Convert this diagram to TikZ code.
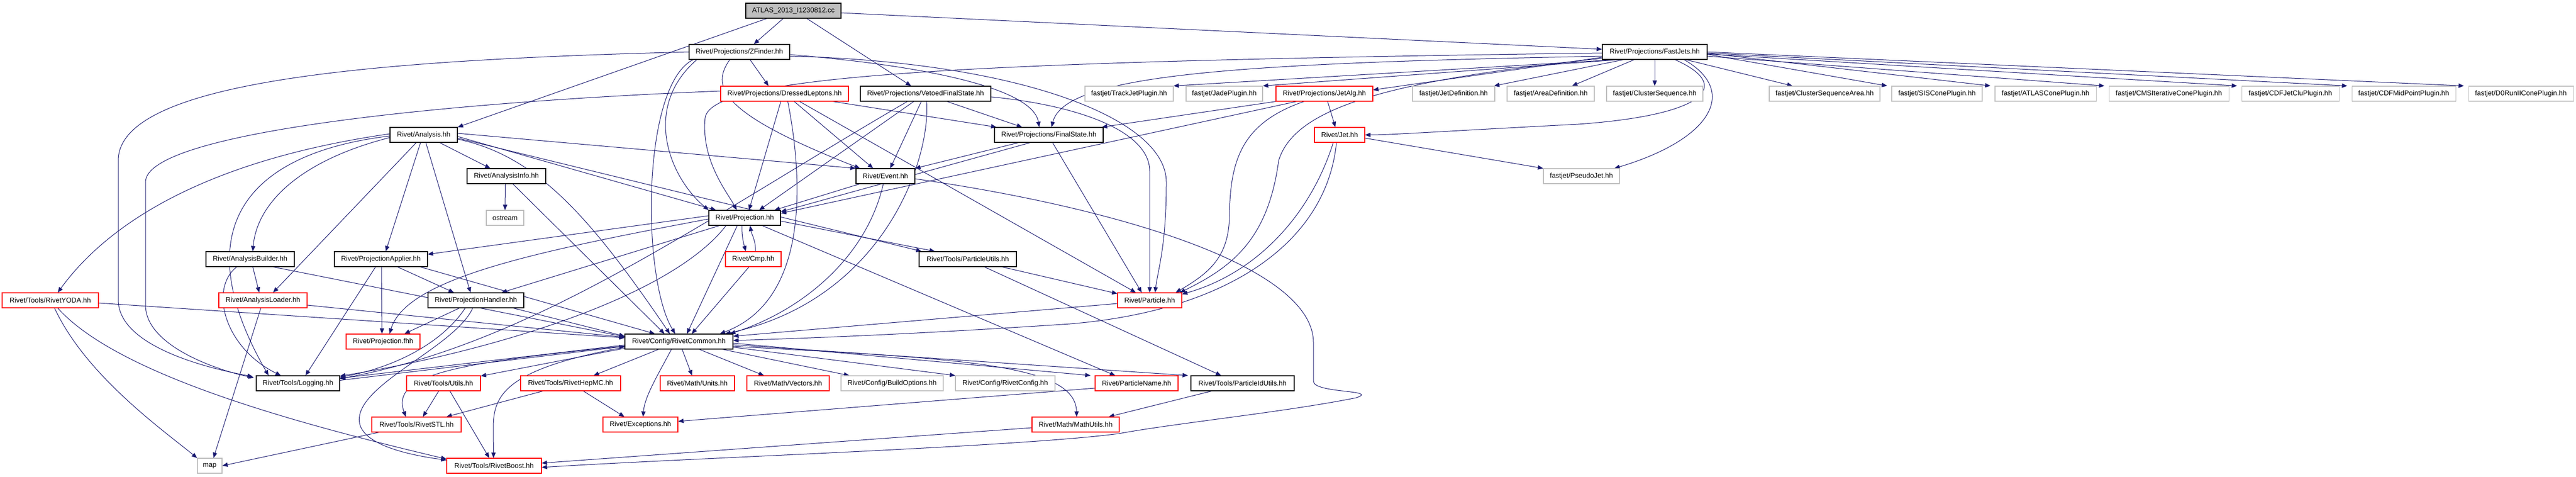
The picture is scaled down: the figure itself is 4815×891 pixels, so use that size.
\documentclass[tikz,border=0pt]{standalone}
\usepackage{fontspec}
\setmainfont{Liberation Sans}
\usetikzlibrary{arrows.meta,backgrounds}
\definecolor{edgecol}{HTML}{191970}
\definecolor{grayb}{HTML}{BFBFBF}
\begin{document}
\begin{tikzpicture}[x=1pt,y=-1pt,
  box/.style={draw, rectangle, inner sep=0pt, minimum height=28pt, fill=white, line width=1.1pt, font=\fontsize{13}{15}\selectfont},
  blk/.style={box, draw=black},
  rbox/.style={box, draw=red},
  gbox/.style={box, draw=grayb},
  rootbox/.style={box, draw=black, fill=grayb},
  dep/.style={draw=edgecol, line width=1pt, -{Triangle[length=10pt,width=8pt]}}]

% ---------- nodes ----------
\node[rootbox, minimum width=178pt] (root) at (1483,20) {ATLAS\_2013\_I1230812.cc};
\node[blk, minimum width=188pt] (zf) at (1382,97) {Rivet/Projections/ZFinder.hh};
\node[blk, minimum width=196pt] (fj) at (3093,97) {Rivet/Projections/FastJets.hh};

\node[rbox, minimum width=239pt] (dl) at (1466.5,175) {Rivet/Projections/DressedLeptons.hh};
\node[blk, minimum width=244pt] (vfs) at (1730,175) {Rivet/Projections/VetoedFinalState.hh};
\node[gbox, minimum width=165pt] (tj) at (2110.5,175) {fastjet/TrackJetPlugin.hh};
\node[gbox, minimum width=143pt] (jade) at (2288.5,175) {fastjet/JadePlugin.hh};
\node[rbox, minimum width=181pt] (ja) at (2475.5,175) {Rivet/Projections/JetAlg.hh};
\node[gbox, minimum width=154pt] (jd) at (2717,175) {fastjet/JetDefinition.hh};
\node[gbox, minimum width=163pt] (ad) at (2898.5,175) {fastjet/AreaDefinition.hh};
\node[gbox, minimum width=180pt] (cs) at (3093,175) {fastjet/ClusterSequence.hh};
\node[gbox, minimum width=207pt] (csa) at (3410.5,175) {fastjet/ClusterSequenceArea.hh};
\node[gbox, minimum width=169pt] (sis) at (3620.5,175) {fastjet/SISConePlugin.hh};
\node[gbox, minimum width=189pt] (atl) at (3823.5,175) {fastjet/ATLASConePlugin.hh};
\node[gbox, minimum width=224pt] (cms) at (4054,175) {fastjet/CMSIterativeConePlugin.hh};
\node[gbox, minimum width=182pt] (cdfj) at (4281,175) {fastjet/CDFJetCluPlugin.hh};
\node[gbox, minimum width=194pt] (cdfm) at (4493,175) {fastjet/CDFMidPointPlugin.hh};
\node[gbox, minimum width=196pt] (d0) at (4712,175) {fastjet/D0RunIIConePlugin.hh};

\node[blk, minimum width=126pt] (an) at (792,252) {Rivet/Analysis.hh};
\node[blk, minimum width=203pt] (fs) at (1960.5,252) {Rivet/Projections/FinalState.hh};
\node[rbox, minimum width=94pt] (jet) at (2504,252) {Rivet/Jet.hh};

\node[blk, minimum width=147pt] (ai) at (946.5,329) {Rivet/AnalysisInfo.hh};
\node[blk, minimum width=110pt] (ev) at (1655,329) {Rivet/Event.hh};
\node[gbox, minimum width=142pt] (pj) at (2956,329) {fastjet/PseudoJet.hh};

\node[gbox, minimum width=70pt] (os) at (944,407) {ostream};
\node[blk, minimum width=134pt] (proj) at (1392,407) {Rivet/Projection.hh};

\node[blk, minimum width=165pt] (ab) at (467.5,484) {Rivet/AnalysisBuilder.hh};
\node[blk, minimum width=174pt] (pa) at (712,484) {Rivet/ProjectionApplier.hh};
\node[rbox, minimum width=104pt] (cmp) at (1408,484) {Rivet/Cmp.hh};
\node[blk, minimum width=182pt] (pu) at (1809,484) {Rivet/Tools/ParticleUtils.hh};

\node[rbox, minimum width=180pt] (yoda) at (94,561) {Rivet/Tools/RivetYODA.hh};
\node[rbox, minimum width=165pt] (al) at (491.5,561) {Rivet/AnalysisLoader.hh};
\node[blk, minimum width=179pt] (ph) at (889.5,561) {Rivet/ProjectionHandler.hh};
\node[rbox, minimum width=120pt] (part) at (2149,561) {Rivet/Particle.hh};

\node[rbox, minimum width=138pt] (pfhh) at (716,638) {Rivet/Projection.fhh};
\node[blk, minimum width=202pt] (rc) at (1269,638) {Rivet/Config/RivetCommon.hh};

\node[blk, minimum width=156pt] (log) at (557,716) {Rivet/Tools/Logging.hh};
\node[rbox, minimum width=138pt] (ut) at (829,716) {Rivet/Tools/Utils.hh};
\node[rbox, minimum width=187pt] (hepmc) at (1066.5,716) {Rivet/Tools/RivetHepMC.hh};
\node[rbox, minimum width=139pt] (units) at (1303.5,716) {Rivet/Math/Units.hh};
\node[rbox, minimum width=154pt] (vec) at (1473,716) {Rivet/Math/Vectors.hh};
\node[gbox, minimum width=191pt] (bo) at (1667.5,716) {Rivet/Config/BuildOptions.hh};
\node[gbox, minimum width=186pt] (rcfg) at (1879,716) {Rivet/Config/RivetConfig.hh};
\node[rbox, minimum width=155pt] (pn) at (2124.5,716) {Rivet/ParticleName.hh};
\node[blk, minimum width=193pt] (piu) at (2322.5,716) {Rivet/Tools/ParticleIdUtils.hh};

\node[rbox, minimum width=167pt] (stl) at (778.5,793) {Rivet/Tools/RivetSTL.hh};
\node[rbox, minimum width=140pt] (exc) at (1197,793) {Rivet/Exceptions.hh};
\node[rbox, minimum width=163pt] (mu) at (2010.5,793) {Rivet/Math/MathUtils.hh};

\node[gbox, minimum width=46pt] (map) at (392,870) {map};
\node[rbox, minimum width=177pt] (boost) at (923.5,870) {Rivet/Tools/RivetBoost.hh};

% ---------- edges ----------
\begin{scope}[on background layer]
\fill[white] (0,0) rectangle (4815,891);
\useasboundingbox (0,0) rectangle (4815,891);

% root
\draw[dep] ([xshift=40pt]root.south west) -- (an.north east);
\draw[dep] ([xshift=-19pt]root.south) -- ([xshift=27pt]zf.north);
\draw[dep] ([xshift=25pt]root.south) -- ([xshift=-27pt]vfs.north);
\draw[dep] ([yshift=-4pt]root.east) -- ([yshift=5pt]fj.west);

% ZFinder
\draw[dep] ([xshift=20pt]zf.south) -- ([xshift=-30pt]dl.north);
\draw[dep] (zf.west) .. controls (700,112) and (221,150) .. (221,300) -- (221,560) .. controls (221,650) and (400,690) .. ([xshift=-6pt,yshift=-2pt]log.north west);
\draw[dep] ([xshift=15pt]zf.south west) .. controls (1200,200) and (1250,330) .. (proj.north west);
\draw[dep] ([xshift=8pt]zf.south west) .. controls (1199,160) and (1199,520) .. ([xshift=-7pt]rc.north);
\draw[dep] ([xshift=-18pt]zf.south) .. controls (1330,160) and (1340,210) .. ([xshift=8pt]ev.north west);
\draw[dep] ([yshift=-5pt]zf.east) .. controls (1700,120) and (1930,160) .. ([xshift=-18pt]fs.north);
\draw[dep] ([yshift=-8pt]zf.east) .. controls (1900,115) and (2180,220) .. (2180,340) .. controls (2180,460) and (2165,500) .. ([xshift=10pt]part.north);

% DressedLeptons
\draw[dep] ([yshift=5pt]dl.west) .. controls (800,192) and (272,250) .. (272,340) -- (272,570) .. controls (272,650) and (420,695) .. ([xshift=-4pt,yshift=-4pt]log.north west);
\draw[dep] ([xshift=-7pt]dl.south) -- ([xshift=8pt]proj.north);
\draw[dep] ([xshift=6pt]dl.south) .. controls (1500,330) and (1515,560) .. ([xshift=-25pt]rc.north east);
\draw[dep] ([xshift=18pt]dl.south) -- ([xshift=-23pt]ev.north);
\draw[dep] ([xshift=28pt]dl.south) -- ([xshift=-26pt]part.north);
\draw[dep] ([xshift=-30pt]dl.south east) -- ([xshift=4pt]fs.north west);

% VetoedFinalState
\draw[dep] ([xshift=-34pt]vfs.south) .. controls (1300,420) and (1000,640) .. ([yshift=-6pt]log.north east);
\draw[dep] ([xshift=-22pt]vfs.south) -- ([xshift=27pt]proj.north);
\draw[dep] ([xshift=-8pt]vfs.south) -- ([xshift=9pt]ev.north);
\draw[dep] ([xshift=2pt]vfs.south) .. controls (1740,300) and (1650,560) .. ([xshift=-15pt]rc.north east);
\draw[dep] ([xshift=40pt]vfs.south) -- ([xshift=-50pt]fs.north);
\draw[dep] ([yshift=-6pt]vfs.east) .. controls (2000,195) and (2149,240) .. (2149,320) -- (part.north);

% FastJets
\draw[dep] ([yshift=-8pt]fj.west) .. controls (2300,118) and (1990,140) .. ([xshift=5pt]fs.north);
\draw[dep] ([yshift=-2pt]fj.west) .. controls (1800,115) and (1330,140) .. (1318,220) .. controls (1310,300) and (1360,360) .. ([xshift=-15pt]proj.north);
\draw[dep] ([yshift=-10pt]fj.west) -- ([yshift=7pt]ja.east);
\draw[dep] ([xshift=38pt]fj.south) .. controls (3240,160) and (3190,215) .. (2950,232) .. controls (2700,245) and (2600,252) .. (jet.east);
\draw[dep] ([xshift=55pt]fj.south) .. controls (3250,170) and (3200,260) .. ([xshift=-10pt]pj.north east);
\draw[dep] ([yshift=-12pt]fj.west) .. controls (2600,150) and (2420,200) .. (2390,300) .. controls (2370,450) and (2300,500) .. ([xshift=-4pt]part.north east);
\draw[dep] ([xshift=25pt]fj.south west) -- (tj.north east);
\draw[dep] ([xshift=30pt]fj.south west) -- (jade.north east);
\draw[dep] ([xshift=40pt]fj.south west) -- ([xshift=-2pt]jd.north east);
\draw[dep] ([xshift=60pt]fj.south west) -- ([xshift=40pt]ad.north);
\draw[dep] (fj.south) -- (cs.north);
\draw[dep] ([xshift=-40pt]fj.south east) -- ([xshift=-60pt]csa.north);
\draw[dep] ([yshift=10pt]fj.south east) -- ([xshift=-8pt]sis.north west);
\draw[dep] ([yshift=12pt]fj.south east) -- ([xshift=-8pt]atl.north west);
\draw[dep] ([yshift=-8pt]fj.east) -- ([xshift=-8pt]cms.north west);
\draw[dep] ([yshift=-4pt]fj.east) -- ([xshift=-8pt]cdfj.north west);
\draw[dep] ([yshift=-2pt]fj.east) -- ([xshift=-8pt]cdfm.north west);
\draw[dep] (fj.east) -- ([xshift=-8pt]d0.north west);

% JetAlg
\draw[dep] (ja.south west) -- ([xshift=-3pt]fs.north east);
\draw[dep] ([xshift=-52pt]ja.south) -- ([yshift=-6pt]proj.north east);
\draw[dep] ([xshift=-38pt]ja.south) .. controls (2320,230) and (2300,300) .. (2298,400) .. controls (2298,480) and (2260,510) .. ([xshift=-12pt]part.north east);
\draw[dep] ([xshift=6pt]ja.south) -- ([xshift=-8pt]jet.north);

% Jet
\draw[dep] ([yshift=-6pt]jet.east) -- (pj.north west);
\draw[dep] ([xshift=-12pt]jet.south) .. controls (2450,400) and (2350,510) .. ([yshift=-3pt]part.north east);
\draw[dep] ([xshift=-6pt]jet.south) .. controls (2480,450) and (2300,580) .. (2000,605) .. controls (1700,625) and (1500,632) .. ([yshift=2pt]rc.east);

% Analysis
\draw[dep] ([xshift=30pt]an.south) -- ([xshift=-30pt]ai.north);
\draw[dep] ([yshift=3pt]an.east) -- (ev.north west);
\draw[dep] ([yshift=-3pt]an.east) -- ([xshift=14pt]proj.north west);
\draw[dep] ([yshift=-6pt]an.east) -- ([xshift=5pt]pu.north west);
\draw[dep] ([yshift=-8pt]an.east) .. controls (1000,290) and (1100,400) .. ([xshift=-17pt]rc.north);
\draw[dep] ([yshift=2pt]an.west) .. controls (380,300) and (200,420) .. ([xshift=14pt]yoda.north);
\draw[dep] ([yshift=-2pt]an.west) .. controls (470,285) and (340,420) .. ([xshift=-55pt]log.north);
\draw[dep] ([yshift=-5pt]an.west) .. controls (560,300) and (480,380) .. ([xshift=5pt]ab.north);
\draw[dep] ([xshift=-14pt]an.south) -- ([xshift=19pt]al.north);
\draw[dep] ([xshift=-6pt]an.south) -- ([xshift=9pt]pa.north);
\draw[dep] ([xshift=4pt]an.south) -- ([xshift=-10pt]ph.north);

% AnalysisInfo
\draw[dep] ([xshift=-2pt]ai.south) -- (os.north);
\draw[dep] ([xshift=12pt]ai.south) -- ([xshift=-27pt]rc.north);

% AnalysisBuilder
\draw[dep] ([xshift=5pt]ab.south) -- ([xshift=-7pt]al.north);
\draw[dep] ([xshift=-25pt]ab.south) .. controls (390,540) and (420,650) .. ([xshift=-32pt]log.north);
\draw[dep] ([xshift=-40pt]ab.south east) -- ([yshift=9pt]rc.west);

% AnalysisLoader
\draw[dep] ([yshift=-9pt]al.east) -- ([yshift=8pt]rc.west);
\draw[dep] ([xshift=-4pt]al.south) -- ([xshift=7pt]map.north);

% RivetYODA
\draw[dep] ([yshift=-5pt]yoda.east) -- ([yshift=7pt]rc.west);
\draw[dep] ([xshift=8pt]yoda.south) .. controls (160,700) and (300,800) .. (map.north west);
\draw[dep] ([xshift=14pt]yoda.south) .. controls (220,700) and (550,790) .. ([yshift=-2pt]boost.north west);

% ProjectionApplier
\draw[dep] ([xshift=-10pt]pa.south) -- ([xshift=14pt]log.north);
\draw[dep] ([xshift=1pt]pa.south) -- ([xshift=-2pt]pfhh.north);
\draw[dep] ([xshift=31pt]pa.south) -- ([xshift=-41pt]ph.north);
\draw[dep] ([xshift=-14pt]pa.south east) -- ([xshift=-45pt]rc.north);

% ProjectionHandler
\draw[dep] ([xshift=-31pt]ph.south) -- ([xshift=40pt]pfhh.north);
\draw[dep] ([xshift=-20pt]ph.south) .. controls (820,650) and (720,690) .. ([yshift=-3pt]log.north east);
\draw[dep] ([xshift=-6pt]ph.south) .. controls (850,650) and (660,720) .. (672,790) .. controls (680,835) and (780,852) .. ([yshift=-4pt]boost.north west);
\draw[dep] ([xshift=-20pt]ph.south east) -- ([yshift=10pt]rc.west);

% Projection
\draw[dep] ([yshift=4pt]proj.west) -- ([yshift=9pt]pa.east);
\draw[dep] ([xshift=20pt]proj.south west) -- ([xshift=-42pt]ph.north east);
\draw[dep] ([yshift=-2pt]proj.west) .. controls (1000,470) and (760,520) .. ([xshift=12pt]pfhh.north);
\draw[dep] ([xshift=-5pt]proj.south) .. controls (1386,440) and (1390,455) .. ([xshift=-14pt]cmp.north);
\draw[dep] ([xshift=4pt]cmp.north) .. controls (1413,450) and (1405,438) .. ([xshift=10pt]proj.south);
\draw[dep] ([xshift=-14pt]proj.south) -- ([xshift=15pt]rc.north);
\draw[dep] ([xshift=-35pt]proj.south) .. controls (1250,560) and (900,660) .. ([yshift=-1pt]log.north east);
\draw[dep] ([yshift=-6pt]proj.east) -- ([xshift=30pt]pu.north west);
\draw[dep] ([xshift=33pt]proj.south) -- ([xshift=-40pt]pn.north);

% Cmp
\draw[dep] ([xshift=-8pt]cmp.south) -- ([xshift=24pt]rc.north);

% Event
\draw[dep] ([xshift=-48pt]ev.south) -- ([xshift=-12pt]proj.north east);
\draw[dep] ([xshift=-4pt]ev.south) .. controls (1620,480) and (1500,580) .. ([xshift=-6pt]rc.north east);
\draw[dep] ([yshift=-5pt]ev.east) .. controls (2100,390) and (2455,500) .. (2455,640) -- (2455,712)
  .. controls (2455,735) and (2580,728) .. (2535,743)
  .. controls (2400,770) and (2200,790) .. (2091,810)
  .. controls (1900,835) and (1300,855) .. ([yshift=-3pt]boost.east);

% FinalState
\draw[dep] ([xshift=-57pt]fs.south) -- (ev.north east);
\draw[dep] ([xshift=-35pt]fs.south) -- ([yshift=-3pt]proj.north east);
\draw[dep] ([xshift=7pt]fs.south) -- ([xshift=-15pt]part.north);

% Particle
\draw[dep] ([yshift=-6pt]part.west) -- ([yshift=10pt]rc.east);

% ParticleUtils
\draw[dep] ([xshift=64pt]pu.south) -- ([yshift=-2pt]part.north west);
\draw[dep] ([xshift=31pt]pu.south) -- ([xshift=-40pt]piu.north);

% RivetCommon
\draw[dep] ([xshift=-38pt]rc.south) -- ([xshift=43pt]hepmc.north);
\draw[dep] ([xshift=6pt]rc.south) -- ([xshift=-10pt]units.north);
\draw[dep] ([xshift=38pt]rc.south) -- ([xshift=-45pt]vec.north);
\draw[dep] ([xshift=-20pt]rc.south east) -- ([xshift=16pt]bo.north west);
\draw[dep] ([yshift=4pt]rc.south east) -- (rcfg.north west);
\draw[dep] ([yshift=-3pt]rc.east) -- ([xshift=-8pt]pn.north west);
\draw[dep] ([yshift=-6pt]rc.east) -- ([xshift=-5pt]piu.north west);
\draw[dep] ([yshift=-9pt]rc.east) .. controls (1800,670) and (2010,680) .. ([xshift=2pt]mu.north);
\draw[dep] ([xshift=-14pt]rc.south) .. controls (1230,700) and (1205,740) .. ([xshift=5pt]exc.north);
\draw[dep] ([yshift=2pt]rc.south west) -- ([yshift=-1pt]ut.north east);
\draw[dep] ([yshift=6pt]rc.south west) .. controls (850,678) and (730,700) .. ([xshift=-20pt]stl.north);
\draw[dep] ([yshift=4pt]rc.south west) .. controls (940,690) and (922,740) .. (922,800) -- ([xshift=-1pt]boost.north);
\draw[dep] ([yshift=8pt]rc.south west) -- ([yshift=-5pt]log.north east);
\draw[dep] ([yshift=-9pt]log.north east) -- ([yshift=-9pt]rc.west);

% Utils
\draw[dep] ([xshift=-9pt]ut.south) -- ([xshift=12pt]stl.north);
\draw[dep] ([xshift=12pt]ut.south) -- ([xshift=-9pt]boost.north);

% RivetHepMC
\draw[dep] ([xshift=-52pt]hepmc.south) -- ([xshift=56pt]stl.north);
\draw[dep] ([xshift=24pt]hepmc.south) -- ([xshift=-30pt]exc.north);

% RivetSTL
\draw[dep] ([xshift=-70pt]stl.south) -- (map.east);

% ParticleName
\draw[dep] ([yshift=-9pt]pn.west) -- ([yshift=6pt]exc.east);

% ParticleIdUtils
\draw[dep] ([xshift=-58pt]piu.south) -- ([xshift=62pt]mu.north);

% MathUtils
\draw[dep] ([yshift=-6pt]mu.west) -- ([yshift=5pt]boost.east);
\end{scope}
\end{tikzpicture}
\end{document}
